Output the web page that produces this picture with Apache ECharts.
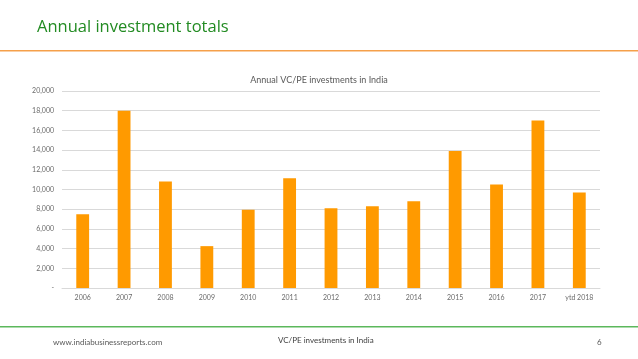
<!DOCTYPE html>
<html>
<head>
<meta charset="utf-8">
<script src="https://cdn.jsdelivr.net/npm/echarts@6/dist/echarts.min.js"></script>
<style>
html,body{margin:0;padding:0;background:#fff;}
#chart{width:638px;height:359px;}
</style>
</head>
<body>
<div id="chart"></div>
<script>
var categories = ['2006','2007','2008','2009','2010','2011','2012','2013','2014','2015','2016','2017','ytd 2018'];
var investments = [7500, 18000, 10800, 4250, 7950, 11150, 8100, 8300, 8800, 13900, 10500, 17000, 9700];
var yTicks = [0, 2000, 4000, 6000, 8000, 10000, 12000, 14000, 16000, 18000, 20000];

var chart = echarts.init(document.getElementById('chart'));
chart.setOption({
  animation: false,
  backgroundColor: '#ffffff',
  title: {
    text: 'Annual VC/PE investments in India',
    left: 'center',
    top: 71,
    textStyle: { fontFamily: 'Lato', fontSize: 9, fontWeight: 'normal', color: '#595959' }
  },
  grid: { left: 62, right: 38, top: 91, bottom: 71, containLabel: false },
  xAxis: {
    type: 'category',
    data: categories,
    axisLine: { show: true, lineStyle: { color: '#d9d9d9', width: 1 } },
    axisTick: { show: false },
    axisLabel: { fontFamily: 'Lato', fontSize: 7, color: '#6b6b6b', margin: 6 }
  },
  yAxis: {
    type: 'value',
    min: yTicks[0],
    max: yTicks[yTicks.length - 1],
    interval: 2000,
    axisLine: { show: false },
    axisTick: { show: false },
    splitLine: { lineStyle: { color: '#d9d9d9', width: 1 } },
    axisLabel: {
      fontFamily: 'Lato', fontSize: 7, color: '#6b6b6b', margin: 8,
      formatter: function (v) { return v === 0 ? '-' : v.toLocaleString('en-US'); }
    }
  },
  series: [{
    type: 'bar',
    data: investments,
    barWidth: '31%',
    itemStyle: { color: '#ff9a00' }
  }],
  graphic: [
    { type: 'text', left: 37, top: 19, style: { text: 'Annual investment totals', fontFamily: 'Open Sans', fontSize: 16.5, fill: '#228b22' } },
    { type: 'rect', shape: { x: 0, y: 50, width: 638, height: 1.5 }, style: { fill: '#f5a04a' } },
    { type: 'rect', shape: { x: 0, y: 326, width: 638, height: 1.5 }, style: { fill: '#5cb85c' } },
    { type: 'text', left: 53, top: 338, style: { text: 'www.indiabusinessreports.com', fontFamily: 'Lato', fontSize: 8, fill: '#595959' } },
    { type: 'text', left: 278, top: 336, style: { text: 'VC/PE investments in India', fontFamily: 'Lato', fontSize: 8, fill: '#404040' } },
    { type: 'text', left: 597, top: 338, style: { text: '6', fontFamily: 'Lato', fontSize: 8, fill: '#595959' } }
  ]
});
</script>
</body>
</html>
